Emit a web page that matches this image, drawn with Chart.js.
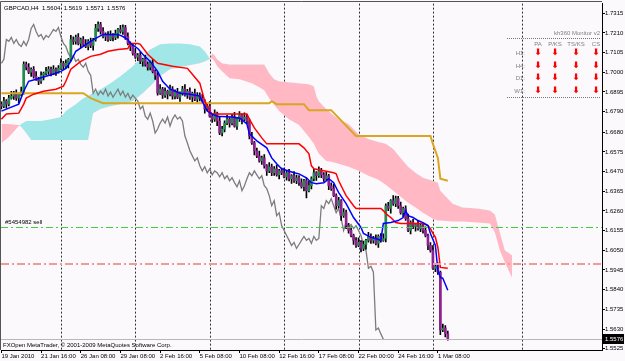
<!DOCTYPE html>
<html><head><meta charset="utf-8">
<script src="https://cdn.jsdelivr.net/npm/chart.js@4.4.1/dist/chart.umd.min.js"></script>
<style>html,body{margin:0;padding:0;background:#fbf9fc;overflow:hidden}canvas{display:block}</style>
</head><body>
<canvas id="c" width="625" height="361"></canvas>
<script>
// ---------------- DATA (GBPCAD, H4) ----------------
const symbolTitle = 'GBPCAD,H4  1.5604  1.5619  1.5571  1.5576';
const copyrightText = 'FXOpen MetaTrader, \u00a9 2001-2009 MetaQuotes Software Corp.';
const orderLabel = '#5454982 sell';
const sellLevel = 1.6173;
const stopLevel = 1.5977;
const bidPrice = 1.5576;

const open = [
1.6830,1.6819,1.6846,1.6830,1.6862,1.6873,1.6888,1.6862,1.6883,1.6899,
1.7042,1.7027,1.7000,1.7016,1.6979,1.6963,1.6952,1.6984,1.6995,1.7005,
1.7016,1.6995,1.7016,1.7005,1.7021,1.7048,1.7032,1.7048,1.7069,1.7175,
1.7165,1.7186,1.7154,1.7175,1.7149,1.7138,1.7165,1.7143,1.7175,1.7234,
1.7255,1.7218,1.7191,1.7202,1.7175,1.7196,1.7186,1.7207,1.7228,1.7218,
1.7239,1.7191,1.7154,1.7138,1.7101,1.7080,1.7090,1.7058,1.7069,1.7042,
1.7027,1.7048,1.7005,1.6984,1.6888,1.6910,1.6878,1.6899,1.6883,1.6910,
1.6873,1.6894,1.6867,1.6888,1.6910,1.6878,1.6899,1.6867,1.6888,1.6857,
1.6878,1.6862,1.6846,1.6804,1.6819,1.6766,1.6750,1.6782,1.6740,1.6676,
1.6697,1.6729,1.6750,1.6729,1.6761,1.6713,1.6750,1.6772,1.6750,1.6761,
1.6740,1.6660,1.6623,1.6581,1.6554,1.6527,1.6543,1.6501,1.6474,1.6496,
1.6464,1.6485,1.6453,1.6474,1.6464,1.6442,1.6464,1.6432,1.6448,1.6421,
1.6437,1.6411,1.6389,1.6421,1.6368,1.6395,1.6432,1.6464,1.6448,1.6474,
1.6453,1.6432,1.6448,1.6395,1.6379,1.6342,1.6288,1.6315,1.6235,1.6251,
1.6182,1.6156,1.6129,1.6103,1.6076,1.6092,1.6060,1.6081,1.6103,1.6124,
1.6103,1.6113,1.6087,1.6124,1.6103,1.6113,1.6288,1.6273,1.6315,1.6299,
1.6326,1.6288,1.6251,1.6273,1.6219,1.6156,1.6198,1.6177,1.6188,1.6166,
1.6182,1.6156,1.6129,1.6076,1.6050,1.5954,1.5965,1.5933,1.5625,1.5635,
1.5604];
const close = [
1.6819,1.6846,1.6830,1.6862,1.6873,1.6888,1.6862,1.6883,1.6899,1.7042,
1.7027,1.7000,1.7016,1.6979,1.6963,1.6952,1.6984,1.6995,1.7005,1.7016,
1.6995,1.7016,1.7005,1.7021,1.7048,1.7032,1.7048,1.7069,1.7175,1.7165,
1.7186,1.7154,1.7175,1.7149,1.7138,1.7165,1.7143,1.7175,1.7234,1.7255,
1.7218,1.7191,1.7202,1.7175,1.7196,1.7186,1.7207,1.7228,1.7218,1.7239,
1.7191,1.7154,1.7138,1.7101,1.7080,1.7090,1.7058,1.7069,1.7042,1.7027,
1.7048,1.7005,1.6984,1.6888,1.6910,1.6878,1.6899,1.6883,1.6910,1.6873,
1.6894,1.6867,1.6888,1.6910,1.6878,1.6899,1.6867,1.6888,1.6857,1.6878,
1.6862,1.6846,1.6804,1.6819,1.6766,1.6750,1.6782,1.6740,1.6676,1.6697,
1.6729,1.6750,1.6729,1.6761,1.6713,1.6750,1.6772,1.6750,1.6761,1.6740,
1.6660,1.6623,1.6581,1.6554,1.6527,1.6543,1.6501,1.6474,1.6496,1.6464,
1.6485,1.6453,1.6474,1.6464,1.6442,1.6464,1.6432,1.6448,1.6421,1.6437,
1.6411,1.6389,1.6421,1.6368,1.6395,1.6432,1.6464,1.6448,1.6474,1.6453,
1.6432,1.6448,1.6395,1.6379,1.6342,1.6288,1.6315,1.6235,1.6251,1.6182,
1.6156,1.6129,1.6103,1.6076,1.6092,1.6060,1.6081,1.6103,1.6124,1.6103,
1.6113,1.6087,1.6124,1.6103,1.6113,1.6288,1.6273,1.6315,1.6299,1.6326,
1.6288,1.6251,1.6273,1.6219,1.6156,1.6198,1.6177,1.6188,1.6166,1.6182,
1.6156,1.6129,1.6076,1.6050,1.5954,1.5965,1.5933,1.5625,1.5635,1.5604,
1.5576];
const high = [
1.6842,1.6866,1.6854,1.6877,1.6898,1.6898,1.6906,1.6889,1.6921,1.7056,
1.7054,1.7047,1.7024,1.7031,1.7004,1.6973,1.7002,1.7001,1.7027,1.7030,
1.7028,1.7036,1.7024,1.7036,1.7073,1.7058,1.7066,1.7075,1.7197,1.7189,
1.7198,1.7206,1.7183,1.7190,1.7174,1.7175,1.7183,1.7181,1.7256,1.7269,
1.7267,1.7238,1.7210,1.7217,1.7221,1.7206,1.7225,1.7234,1.7250,1.7253,
1.7251,1.7211,1.7162,1.7153,1.7126,1.7100,1.7108,1.7075,1.7091,1.7056,
1.7060,1.7068,1.7013,1.6999,1.6935,1.6920,1.6917,1.6905,1.6932,1.6924,
1.6906,1.6914,1.6896,1.6925,1.6935,1.6909,1.6917,1.6894,1.6910,1.6892,
1.6890,1.6882,1.6854,1.6834,1.6844,1.6776,1.6800,1.6788,1.6762,1.6711,
1.6741,1.6770,1.6758,1.6776,1.6786,1.6760,1.6790,1.6778,1.6783,1.6775,
1.6752,1.6680,1.6631,1.6596,1.6579,1.6553,1.6561,1.6507,1.6518,1.6510,
1.6497,1.6505,1.6482,1.6489,1.6489,1.6474,1.6482,1.6454,1.6470,1.6451,
1.6449,1.6431,1.6429,1.6436,1.6420,1.6442,1.6482,1.6470,1.6496,1.6488,
1.6465,1.6468,1.6456,1.6410,1.6404,1.6352,1.6333,1.6321,1.6273,1.6265,
1.6194,1.6176,1.6137,1.6118,1.6117,1.6102,1.6099,1.6109,1.6146,1.6138,
1.6125,1.6133,1.6132,1.6139,1.6138,1.6298,1.6306,1.6321,1.6342,1.6340,
1.6338,1.6308,1.6281,1.6288,1.6244,1.6208,1.6216,1.6194,1.6210,1.6196,
1.6194,1.6176,1.6137,1.6091,1.6075,1.5975,1.5983,1.5939,1.5657,1.5649,
1.5619];
const low = [
1.6804,1.6811,1.6808,1.6820,1.6856,1.6855,1.6850,1.6837,1.6874,1.6883,
1.7012,1.6992,1.6978,1.6969,1.6957,1.6934,1.6940,1.6959,1.6986,1.6989,
1.6980,1.6987,1.6983,1.6995,1.7015,1.7014,1.7020,1.7023,1.7060,1.7149,
1.7150,1.7146,1.7132,1.7139,1.7132,1.7120,1.7131,1.7118,1.7166,1.7218,
1.7203,1.7183,1.7169,1.7165,1.7169,1.7168,1.7174,1.7182,1.7209,1.7202,
1.7176,1.7146,1.7116,1.7091,1.7074,1.7062,1.7046,1.7033,1.7033,1.7011,
1.7012,1.6997,1.6962,1.6878,1.6882,1.6860,1.6866,1.6858,1.6874,1.6857,
1.6858,1.6859,1.6845,1.6878,1.6872,1.6860,1.6855,1.6842,1.6848,1.6841,
1.6847,1.6838,1.6782,1.6794,1.6760,1.6732,1.6738,1.6715,1.6667,1.6660,
1.6682,1.6721,1.6707,1.6719,1.6707,1.6695,1.6738,1.6725,1.6741,1.6724,
1.6645,1.6615,1.6559,1.6544,1.6521,1.6509,1.6489,1.6449,1.6465,1.6448,
1.6449,1.6445,1.6431,1.6454,1.6436,1.6424,1.6420,1.6407,1.6412,1.6405,
1.6396,1.6381,1.6367,1.6330,1.6362,1.6377,1.6420,1.6423,1.6439,1.6437,
1.6417,1.6424,1.6373,1.6369,1.6336,1.6270,1.6276,1.6210,1.6226,1.6166,
1.6141,1.6121,1.6081,1.6066,1.6070,1.6042,1.6048,1.6056,1.6094,1.6087,
1.6088,1.6079,1.6065,1.6093,1.6097,1.6095,1.6261,1.6248,1.6290,1.6283,
1.6273,1.6243,1.6229,1.6209,1.6150,1.6138,1.6165,1.6152,1.6157,1.6150,
1.6141,1.6121,1.6054,1.6040,1.5948,1.5936,1.5921,1.5600,1.5616,1.5588,
1.5571];

// Tenkan-sen (blue), Kijun-sen (red), long-term line (goldenrod): bar index -> price
const tenkanBars = [0,3,7,9,11,14,18,22,24,26,28,30,33,36,38,41,47,49,51,52,55,57,60,63,65,68,72,76,80,81,83,85,87,93,96,99,100,103,107,109,111,113,118,120,123,125,127,130,131,132,134,135,136,139,142,145,146,149,151,153,154,157,160,162,163,164,166,168,170,172,173,175,176,177,178,180];
const tenkanVals = [1.6793,1.6809,1.6830,1.6899,1.6952,1.6963,1.6979,1.6995,1.7005,1.7021,1.7058,1.7112,1.7138,1.7165,1.7181,1.7202,1.7202,1.7191,1.7175,1.7154,1.7127,1.7096,1.7058,1.7005,1.6952,1.6910,1.6888,1.6883,1.6873,1.6846,1.6793,1.6777,1.6766,1.6761,1.6756,1.6724,1.6671,1.6634,1.6597,1.6543,1.6512,1.6485,1.6464,1.6458,1.6437,1.6411,1.6405,1.6411,1.6421,1.6432,1.6411,1.6384,1.6358,1.6299,1.6225,1.6172,1.6140,1.6119,1.6113,1.6103,1.6193,1.6198,1.6209,1.6225,1.6262,1.6235,1.6225,1.6209,1.6198,1.6182,1.6140,1.6076,1.5943,1.5906,1.5901,1.5837];
const kijunBars = [0,2,7,9,10,13,17,22,25,26,28,32,36,40,43,47,51,52,55,56,59,63,69,75,77,80,82,84,85,99,100,102,105,107,120,122,124,125,126,134,135,136,138,139,142,143,153,154,155,157,159,161,170,172,173,174,175,176,177,180];
const kijunVals = [1.6750,1.6777,1.6782,1.6830,1.6862,1.6883,1.6899,1.6910,1.6926,1.6952,1.7016,1.7058,1.7085,1.7096,1.7112,1.7122,1.7127,1.7154,1.7154,1.7149,1.7096,1.7048,1.7032,1.7021,1.6989,1.6942,1.6846,1.6793,1.6777,1.6777,1.6750,1.6703,1.6650,1.6618,1.6618,1.6597,1.6565,1.6501,1.6485,1.6464,1.6458,1.6421,1.6368,1.6342,1.6288,1.6273,1.6273,1.6262,1.6246,1.6225,1.6198,1.6193,1.6193,1.6182,1.6166,1.6140,1.6119,1.6065,1.5959,1.5954];
const goldBars = [0,33,36,41,108,109,111,122,124,133,143,173,174,175,176,177,180];
const goldVals = [1.6888,1.6888,1.6862,1.6835,1.6835,1.6846,1.6830,1.6830,1.6798,1.6798,1.6660,1.6660,1.6618,1.6581,1.6543,1.6432,1.6421];
const chikouShift = 26;

// Kumo (Senkou span A / B), already shifted 26 bars forward
const cloudBars = [0,3,7,8,10,12,16,20,24,26,30,33,35,36,37,40,44,48,53,57,60,64,68,72,76,80,82,84,85,86,87,89,92,96,101,104,106,108,110,112,116,120,124,126,127,128,131,133,136,140,144,148,152,155,158,161,164,167,170,174,176,177,182,186,192,197,199,201,203,206];
const spanA = [1.6623,1.6655,1.6713,1.6724,1.6740,1.6740,1.6740,1.6750,1.6761,1.6793,1.6830,1.6862,1.6873,1.6883,1.6888,1.6910,1.6942,1.6979,1.7032,1.7085,1.7122,1.7149,1.7154,1.7154,1.7149,1.7138,1.7112,1.7074,1.7074,1.7058,1.7032,1.7005,1.6968,1.6963,1.6942,1.6920,1.6904,1.6862,1.6825,1.6793,1.6750,1.6719,1.6655,1.6618,1.6591,1.6565,1.6527,1.6522,1.6512,1.6496,1.6474,1.6448,1.6427,1.6400,1.6368,1.6336,1.6304,1.6278,1.6251,1.6219,1.6209,1.6209,1.6204,1.6204,1.6198,1.6193,1.6145,1.6050,1.5986,1.5901];
const spanB = [1.6724,1.6724,1.6719,1.6708,1.6676,1.6639,1.6639,1.6639,1.6639,1.6639,1.6639,1.6639,1.6639,1.6713,1.6782,1.6804,1.6819,1.6830,1.6846,1.6888,1.6926,1.6979,1.7016,1.7027,1.7037,1.7048,1.7058,1.7069,1.7101,1.7090,1.7069,1.7048,1.7042,1.7042,1.7042,1.7042,1.7042,1.6995,1.6963,1.6952,1.6947,1.6942,1.6936,1.6926,1.6873,1.6846,1.6804,1.6782,1.6750,1.6724,1.6671,1.6644,1.6628,1.6618,1.6591,1.6543,1.6496,1.6464,1.6437,1.6421,1.6411,1.6368,1.6299,1.6278,1.6273,1.6262,1.6241,1.6145,1.6050,1.6023];

// Axes
const separatorBars = [24,54,84,114,144,174,210];
const dateTickBars = [0,16,32,48,64,80,96,112,128,144,160,176];
const dateLabels = ['19 Jan 2010','21 Jan 16:00','26 Jan 08:00','29 Jan 08:00','2 Feb 16:00','5 Feb 08:00','10 Feb 08:00','12 Feb 16:00','17 Feb 08:00','22 Feb 00:00','24 Feb 16:00','1 Mar 08:00'];
const priceTicks = [1.5525,1.5630,1.5735,1.5840,1.5945,1.6050,1.6155,1.6260,1.6365,1.6470,1.6575,1.6680,1.6790,1.6895,1.7000,1.7105,1.7210,1.7315];

// Monitor panel
const monitorTitle = 'kh360 Monitor v2';
const monitorCols = ['PA','P/KS','TS/KS','CS'];
const monitorRows = ['H1:','H4:','D1:','W1:'];
const monitorSignals = [['down','down','down','down'],['down','down','down','down'],['down','down','down','down'],['down','down','down','down']];

// ---------------- STYLE ----------------
const FONT = "'Liberation Sans',Arial,sans-serif";
const FS = 6;
const BG = '#fbf9fc';
const CYAN = '#a2e7e7';
const PINK = '#ffb8c4';
const BULL = '#248a4e';
const BEAR = '#8f2090';

Chart.defaults.font.family = FONT;
Chart.defaults.font.size = FS;
Chart.defaults.color = '#000';

const pts = (xs, ys) => xs.map((x, i) => ({x, y: ys[i]}));
const idx = close.map((_, i) => i);

const overlay = {
  id: 'overlay',
  beforeDraw(ch) {
    const c = ch.ctx; c.save(); c.fillStyle = BG; c.fillRect(0, 0, ch.width, ch.height); c.restore();
  },
  beforeDatasetsDraw(ch) {
    const c = ch.ctx, a = ch.chartArea, x = ch.scales.x;
    c.save();
    c.lineWidth = 1; c.strokeStyle = '#333'; c.setLineDash([2, 2]);
    separatorBars.forEach(b => {
      const px = Math.round(x.getPixelForValue(b)) + 0.5;
      c.beginPath(); c.moveTo(px, a.top); c.lineTo(px, a.bottom); c.stroke();
    });
    c.restore();
  },
  afterDatasetsDraw(ch) {
    const c = ch.ctx, a = ch.chartArea, y = ch.scales.y;
    c.save();
    const hline = (p, color, w, dash) => {
      const py = Math.round(y.getPixelForValue(p)) + (w % 2 ? 0.5 : 0);
      c.strokeStyle = color; c.lineWidth = w; c.setLineDash(dash);
      c.beginPath(); c.moveTo(a.left, py); c.lineTo(a.right, py); c.stroke();
    };
    hline(sellLevel, '#3fcf3f', 1, [7, 3, 2, 3]);
    hline(stopLevel, '#f59a9a', 2, [8, 3, 2, 3]);
    hline(bidPrice, '#b8b8b8', 1, []);
    c.setLineDash([]);
    // frame
    c.strokeStyle = '#555'; c.lineWidth = 1;
    c.beginPath(); c.moveTo(0.5, 350); c.lineTo(0.5, 1.5); c.lineTo(602, 1.5); c.stroke();
    // texts
    c.fillStyle = '#000'; c.font = FS + 'px ' + FONT; c.textBaseline = 'middle'; c.textAlign = 'left';
    c.fillText(symbolTitle, 4, 8);
    c.fillText(copyrightText, 3, 345);
    c.fillText(orderLabel, 5, y.getPixelForValue(sellLevel) - 5);
    // monitor panel
    c.fillStyle = '#808080'; c.textAlign = 'right';
    c.fillText(monitorTitle, 600, 33);
    c.strokeStyle = '#777'; c.setLineDash([1, 1]);
    [38.5, 97.5].forEach(py => { c.beginPath(); c.moveTo(507, py); c.lineTo(601, py); c.stroke(); });
    c.setLineDash([]);
    const colX = [538, 555, 576, 596];
    const rowY = [53, 66, 78, 91];
    c.textAlign = 'center';
    monitorCols.forEach((t, k) => c.fillText(t, colX[k], 44));
    c.textAlign = 'right';
    monitorRows.forEach((t, r) => c.fillText(t, 525, rowY[r]));
    c.fillStyle = '#ff0000'; c.textAlign = 'center'; c.font = 'bold 9px "DejaVu Sans"';
    monitorSignals.forEach((row, r) => row.forEach((s, k) => c.fillText(s === 'down' ? '\u2B07' : '\u2B06', colX[k], rowY[r])));
    // bid price box
    const by = Math.round(y.getPixelForValue(bidPrice));
    c.fillStyle = '#000'; c.fillRect(603, by - 5, 21, 10);
    c.fillStyle = '#fff'; c.textAlign = 'left'; c.font = FS + 'px ' + FONT;
    c.fillText(bidPrice.toFixed(4), 605, by);
    c.restore();
  }
};

new Chart(document.getElementById('c'), {
  type: 'bar',
  data: {
    datasets: [
      {type: 'line', label: 'Senkou A', data: pts(cloudBars, spanA), borderColor: 'rgba(0,0,0,0)', borderWidth: 1, pointRadius: 0, tension: 0,
       fill: {target: '+1', above: CYAN, below: PINK}, order: 20},
      {type: 'line', label: 'Senkou B', data: pts(cloudBars, spanB), borderColor: 'rgba(0,0,0,0)', borderWidth: 1, pointRadius: 0, tension: 0, fill: false, order: 19},
      {type: 'line', label: 'Chikou', data: close.map((c, i) => ({x: i - chikouShift, y: c})).filter(p => p.x >= 0),
       borderColor: '#7c7c7c', borderWidth: 1.3, pointRadius: 0, tension: 0, order: 8},
      {type: 'bar', label: 'range', data: idx.map(i => ({x: i, y: [low[i], high[i]]})), backgroundColor: '#000', barThickness: 1, grouped: false, order: 6},
      {type: 'bar', label: 'body', data: idx.map(i => ({x: i, y: [open[i], close[i]]})),
       backgroundColor: idx.map(i => close[i] >= open[i] ? BULL : BEAR), borderColor: '#111', borderWidth: 0, barThickness: 2, minBarLength: 1, grouped: false, order: 5},
      {type: 'line', label: 'Gold', data: pts(goldBars, goldVals), borderColor: '#daa520', borderWidth: 2, pointRadius: 0, tension: 0, order: 3},
      {type: 'line', label: 'Kijun', data: pts(kijunBars, kijunVals), borderColor: '#ff0000', borderWidth: 1.5, pointRadius: 0, tension: 0, order: 2},
      {type: 'line', label: 'Tenkan', data: pts(tenkanBars, tenkanVals), borderColor: '#0000ff', borderWidth: 1.5, pointRadius: 0, tension: 0, order: 1}
    ]
  },
  options: {
    responsive: false, animation: false, devicePixelRatio: 1,
    layout: {padding: {left: 1, top: 2, right: 0, bottom: 0}},
    plugins: {legend: {display: false}, tooltip: {enabled: false}},
    scales: {
      x: {
        type: 'linear', position: 'bottom', min: -0.161, max: 242.18, offset: false,
        grid: {display: true, drawOnChartArea: false, drawTicks: true, tickLength: 3, color: '#000', offset: false},
        border: {display: true, color: '#000'},
        ticks: {autoSkip: false, maxRotation: 0, minRotation: 0, align: 'start', padding: 0, color: '#000', font: {size: FS, family: FONT},
                callback: v => { const k = dateTickBars.indexOf(v); return k >= 0 ? dateLabels[k] : ''; }},
        afterBuildTicks: ax => { ax.ticks = dateTickBars.map(v => ({value: v})); },
        afterFit: ax => { ax.height = 11; }
      },
      y: {
        type: 'linear', position: 'right', min: 1.55181, max: 1.73665,
        grid: {display: true, drawOnChartArea: false, drawTicks: true, tickLength: 3, color: '#000'},
        border: {display: true, color: '#000'},
        ticks: {padding: 0, color: '#000', font: {size: FS, family: FONT}, callback: v => v.toFixed(4)},
        afterBuildTicks: ax => { ax.ticks = priceTicks.map(v => ({value: v})); },
        afterFit: ax => { ax.width = 23; }
      }
    }
  },
  plugins: [overlay]
});
</script>
</body></html>
